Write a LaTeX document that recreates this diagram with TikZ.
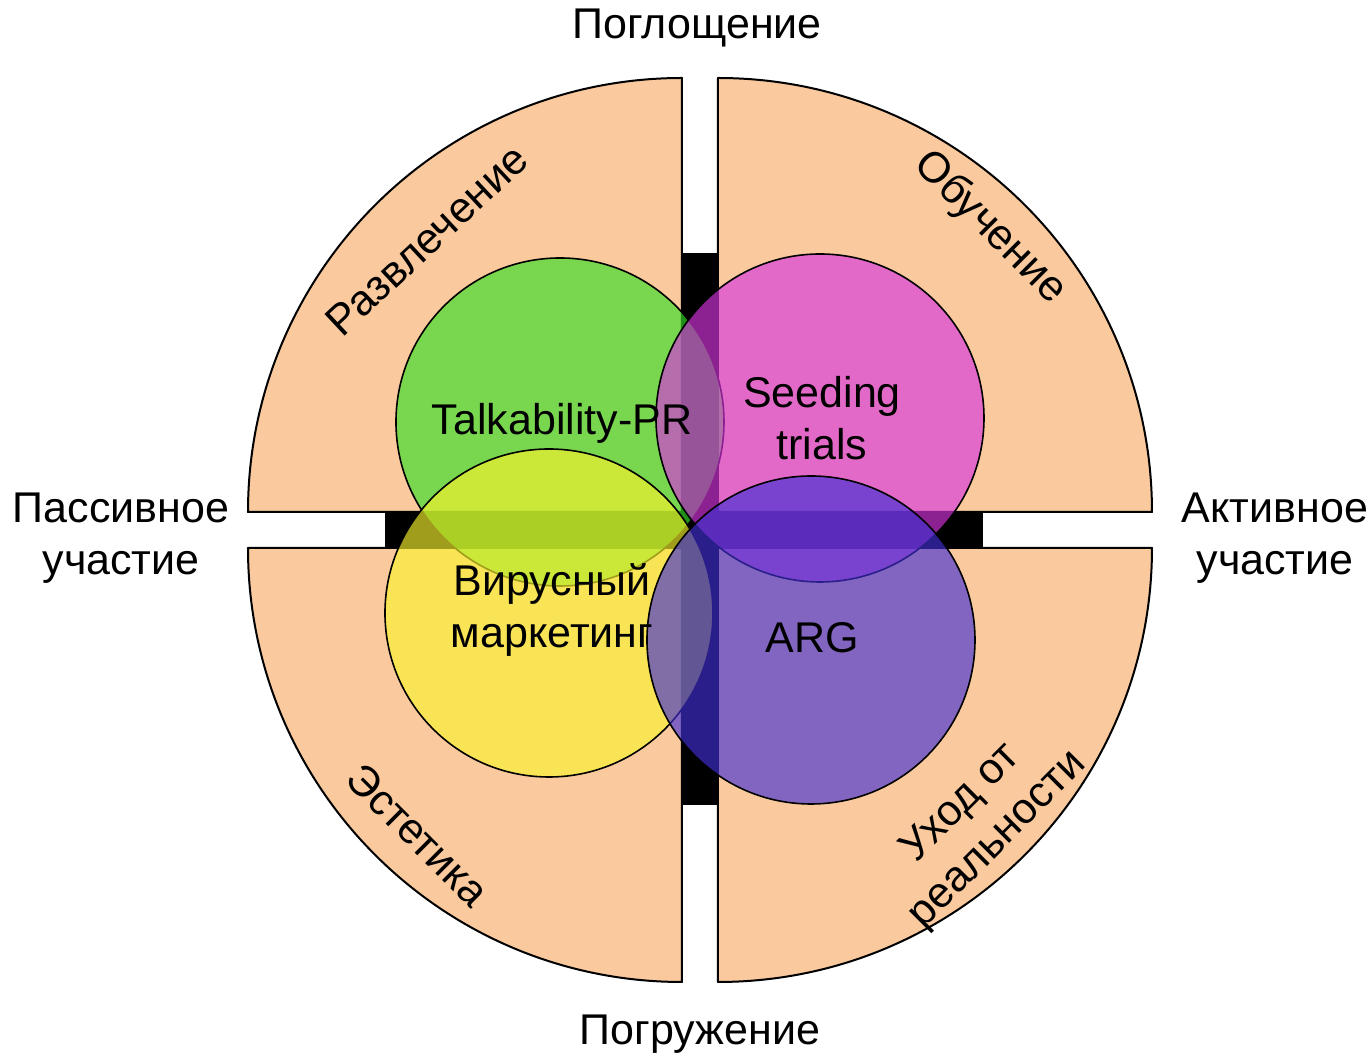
\documentclass[tikz,border=0pt]{standalone}
\usepackage{fontspec}
\setmainfont{Liberation Sans}
\usepackage{tikz}
\usetikzlibrary{positioning}

\definecolor{peach}{RGB}{250,202,158}
\definecolor{talkgreen}{RGB}{52,222,38}
\definecolor{seedpink}{RGB}{216,53,223}
\definecolor{viralyellow}{RGB}{247,242,46}
\definecolor{argpurple}{RGB}{66,48,212}

\begin{document}
\begin{tikzpicture}[line cap=round,line join=round,x=0.5pt,y=0.5pt,
  sector/.style={draw=black,line width=1pt,fill=peach},
  bar/.style={fill=black},
  blob/.style={draw=black,line width=0.8pt,fill opacity=0.65},
  lbl/.style={font=\fontsize{21.5}{26}\selectfont,align=center,inner sep=0pt}]
\useasboundingbox (-700,-528) rectangle (672,530);
% four quarters
\draw[sector] (-18,18) -- (-452,18) arc[start angle=180,end angle=90,radius=434] -- cycle;
\draw[sector] (18,18) -- (18,452) arc[start angle=90,end angle=0,radius=434] -- cycle;
\draw[sector] (-18,-18) -- (-452,-18) arc[start angle=180,end angle=270,radius=434] -- cycle;
\draw[sector] (18,-18) -- (18,-452) arc[start angle=270,end angle=360,radius=434] -- cycle;
% axes
\fill[bar] (-18,-275) rectangle (18,277);
\fill[bar] (-315,-18) rectangle (283,18);
% circles
\draw[blob,fill=talkgreen] (-140,108) circle[radius=164];
\draw[blob,fill=seedpink] (120,112) circle[radius=164];
\draw[blob,fill=viralyellow] (-151,-83) circle[radius=164];
\draw[blob,fill=argpurple] (111,-110) circle[radius=164];
% axis labels
\node[lbl] (absorb) at (-3,502) {Поглощение};
\node[lbl] (immerse) at (0,-504) {Погружение};
\node[lbl] (passive) at (-579,-8) {Пассивное\\участие};
\node[lbl] (active) at (575,-8) {Активное\\участие};
% quarter labels
\node[lbl,rotate=43] (fun) at (-273,290) {Развлечение};
\node[lbl,rotate=-45] (learn) at (290,302) {Обучение};
\node[lbl,rotate=-45] (aesth) at (-282,-305) {Эстетика};
\node[lbl,rotate=45] (escape) at (280,-292) {Уход от\\реальности};
% circle labels
\node[lbl] (talk) at (-138,107) {Talkability-PR};
\node[lbl] (seed) at (122,112) {Seeding\\trials};
\node[lbl] (viral) at (-148,-80) {Вирусный\\маркетинг};
\node[lbl] (arg) at (112,-108) {ARG};
\end{tikzpicture}
\end{document}
